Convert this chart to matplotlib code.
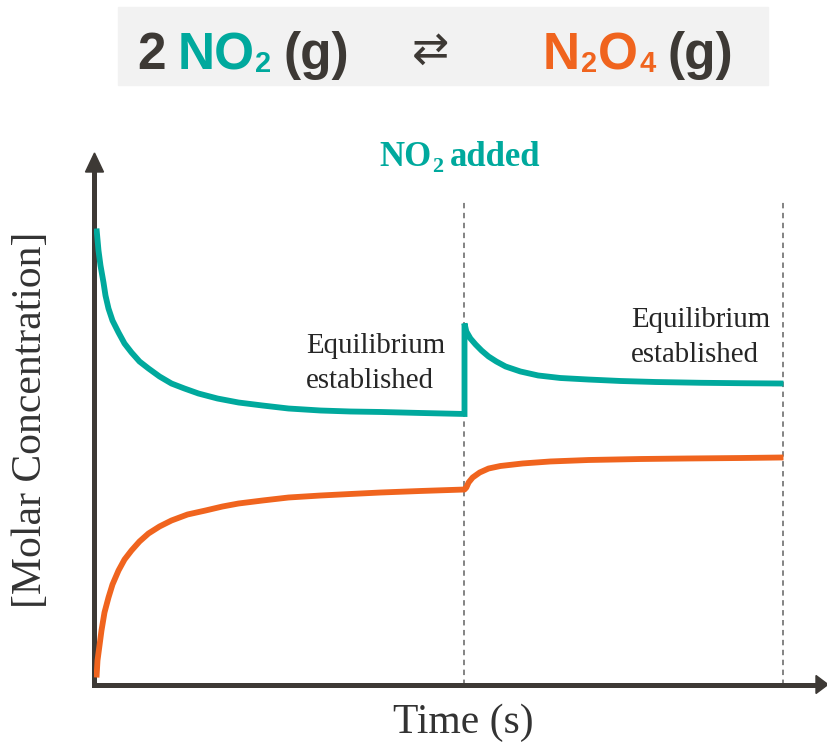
import matplotlib
matplotlib.use("Agg")
import matplotlib.pyplot as plt
from matplotlib.patches import Polygon, Rectangle
from matplotlib.transforms import IdentityTransform

W, H = 828, 748
TEAL = "#00a99d"
ORANGE = "#f0641e"
INK = "#3d3935"
TEXT = "#262626"
GRID = "#7a7a7a"

# --- data -------------------------------------------------------------
t_added = 10.0   # time at which extra NO2 is injected
t_end = 18.62    # second equilibrium

no2_t = [0.054, 0.108, 0.162, 0.243, 0.297, 0.378, 0.486, 0.649, 0.811, 1.000,
         1.216, 1.459, 1.757, 2.081, 2.432, 2.811, 3.324, 3.892, 4.541, 5.243,
         6.108, 6.919, 7.730, 8.811, 10.0,
         10.0, 10.05, 10.16, 10.30, 10.46, 10.65, 10.86, 11.11, 11.51, 11.99,
         12.59, 13.35, 14.22, 15.16, 16.38, 17.46, 18.62]
no2_c = [8.669, 8.251, 7.966, 7.643, 7.395, 7.148, 6.920, 6.692, 6.483, 6.312,
         6.141, 6.008, 5.856, 5.722, 5.627, 5.532, 5.437, 5.361, 5.304, 5.247,
         5.209, 5.190, 5.181, 5.162, 5.143,
         6.863, 6.711, 6.578, 6.464, 6.350, 6.236, 6.141, 6.046, 5.951, 5.875,
         5.827, 5.798, 5.770, 5.751, 5.736, 5.728, 5.722]

n2o4_t = [0.054, 0.081, 0.135, 0.189, 0.270, 0.378, 0.486, 0.649, 0.811, 1.000,
          1.216, 1.459, 1.757, 2.081, 2.514, 3.000, 3.459, 3.892, 4.541, 5.243,
          6.108, 6.919, 7.730, 8.811, 10.0,
          10.05, 10.11, 10.22, 10.41, 10.65, 10.97, 11.57, 12.32, 13.35, 14.76,
          16.05, 17.46, 18.62]
n2o4_c = [0.133, 0.456, 0.741, 1.027, 1.369, 1.654, 1.901, 2.167, 2.376, 2.548,
          2.719, 2.871, 3.004, 3.118, 3.232, 3.308, 3.384, 3.441, 3.498, 3.555,
          3.593, 3.622, 3.650, 3.679, 3.707,
          3.745, 3.840, 3.935, 4.030, 4.106, 4.154, 4.202, 4.240, 4.268, 4.287,
          4.297, 4.306, 4.316]

x_label = "Time (s)"
y_label = "[Molar Concentration]"
event_label = "added"
eq_lines = ["Equilibrium", "established"]

# --- figure -----------------------------------------------------------
fig = plt.figure(figsize=(W / 100, H / 100), dpi=100)
fig.patch.set_facecolor("white")

PX_T = 37.0    # pixels per time unit
PX_C = 52.6    # pixels per concentration unit
x0, y0 = 94.5, 684.5          # origin in pixels (from top-left)
right, top = 828.0, 154.0
ax = fig.add_axes([x0 / W, 1 - y0 / H, (right - x0) / W, (y0 - top) / H])
ax.set_xlim(0, (right - x0) / PX_T)
ax.set_ylim(0, (y0 - top) / PX_C)
ax.set_facecolor("none")
for s in ("top", "right"):
    ax.spines[s].set_visible(False)
for s in ("left", "bottom"):
    ax.spines[s].set_color(INK)
    ax.spines[s].set_linewidth(3.6)
ax.spines["bottom"].set_bounds(0, (818 - x0) / PX_T)
ax.spines["left"].set_bounds(0, (y0 - 168) / PX_C)
ax.set_xticks([])
ax.set_yticks([])

# dashed markers
ax.vlines([t_added, t_end], 0, (y0 - 200) / PX_C, colors=GRID,
          linestyles=(0, (3, 2.5)), linewidth=1.3, zorder=1)

# concentration curves
ax.plot(no2_t, no2_c, color=TEAL, lw=4.2, solid_joinstyle="miter",
        solid_capstyle="butt", zorder=3)
ax.plot(n2o4_t, n2o4_c, color=ORANGE, lw=4.2, solid_joinstyle="round",
        solid_capstyle="butt", zorder=3)

# axis arrow heads (figure pixel coordinates)
def fpx(x, y):
    return (x / W, 1 - y / H)

fig.patches.append(Polygon([fpx(94.5, 153), fpx(85.5, 172), fpx(103.5, 172)],
                           closed=True, color=INK, transform=fig.transFigure))
fig.patches.append(Polygon([fpx(828, 684.5), fpx(816, 675.5), fpx(816, 693.5)],
                           closed=True, color=INK, transform=fig.transFigure))

# header box
fig.patches.append(Rectangle(fpx(118, 85), 650 / W, 78 / H, color="#f2f2f2",
                             transform=fig.transFigure, zorder=0))

renderer = fig.canvas.get_renderer()


def runs_at(x_px, base_px, runs, align="left"):
    """Lay out text runs side by side; each run is (text, props, dy, gap_after)."""
    arts = []
    for s, kw, dy, gap in runs:
        t = fig.text(0, 0, s, transform=IdentityTransform(), va="baseline",
                     ha="left", **kw)
        arts.append((t, dy, gap))
    widths = [t.get_window_extent(renderer).width for t, _, _ in arts]
    total = sum(widths) + sum(g for _, _, g in arts[:-1])
    x = x_px - total / 2 if align == "center" else x_px
    for (t, dy, gap), w in zip(arts, widths):
        t.set_position((x, H - (base_px + dy)))
        x += w + gap


sans = dict(family="Liberation Sans", weight="bold")
big, sub = 37, 21
runs_at(137, 69, [
    ("2", dict(color=INK, fontsize=big, **sans), 0, 12),
    ("NO", dict(color=TEAL, fontsize=big, **sans), 0, 1),
    ("2", dict(color=TEAL, fontsize=sub, **sans), 3, 12),
    ("(g)", dict(color=INK, fontsize=big, **sans), 0, 0),
])
fig.text(430 / W, 1 - 50 / H, "\u21c4", color=INK, fontsize=32,
         family="DejaVu Sans", ha="center", va="center")
runs_at(543, 69, [
    ("N", dict(color=ORANGE, fontsize=big, **sans), 0, 1),
    ("2", dict(color=ORANGE, fontsize=sub, **sans), 3, 1),
    ("O", dict(color=ORANGE, fontsize=big, **sans), 0, 1),
    ("4", dict(color=ORANGE, fontsize=sub, **sans), 3, 12),
    ("(g)", dict(color=INK, fontsize=big, **sans), 0, 0),
])

serif_b = dict(family="Liberation Serif", weight="bold", color=TEAL)
runs_at(460, 166, [
    ("NO", dict(fontsize=25, **serif_b), 0, 0),
    ("2", dict(fontsize=16, **serif_b), 6, 7),
    (event_label, dict(fontsize=25, **serif_b), 0, 0),
], align="center")

serif = dict(family="Liberation Serif", color=TEXT, fontsize=20.8)
for (xl, yb) in ((306, 353), (631, 327)):
    for i, line in enumerate(eq_lines):
        fig.text(xl / W, 1 - (yb + 35 * i) / H, line, ha="left", va="baseline",
                 **serif)

fig.text(463 / W, 1 - 733 / H, x_label, ha="center", va="baseline",
         family="Liberation Serif", fontsize=30, color="#333333")
fig.text(31 / W, 1 - 420 / H, y_label, ha="center", va="center", rotation=90,
         family="Liberation Serif", fontsize=30, color="#333333")

fig.savefig("out.png", dpi=100)
